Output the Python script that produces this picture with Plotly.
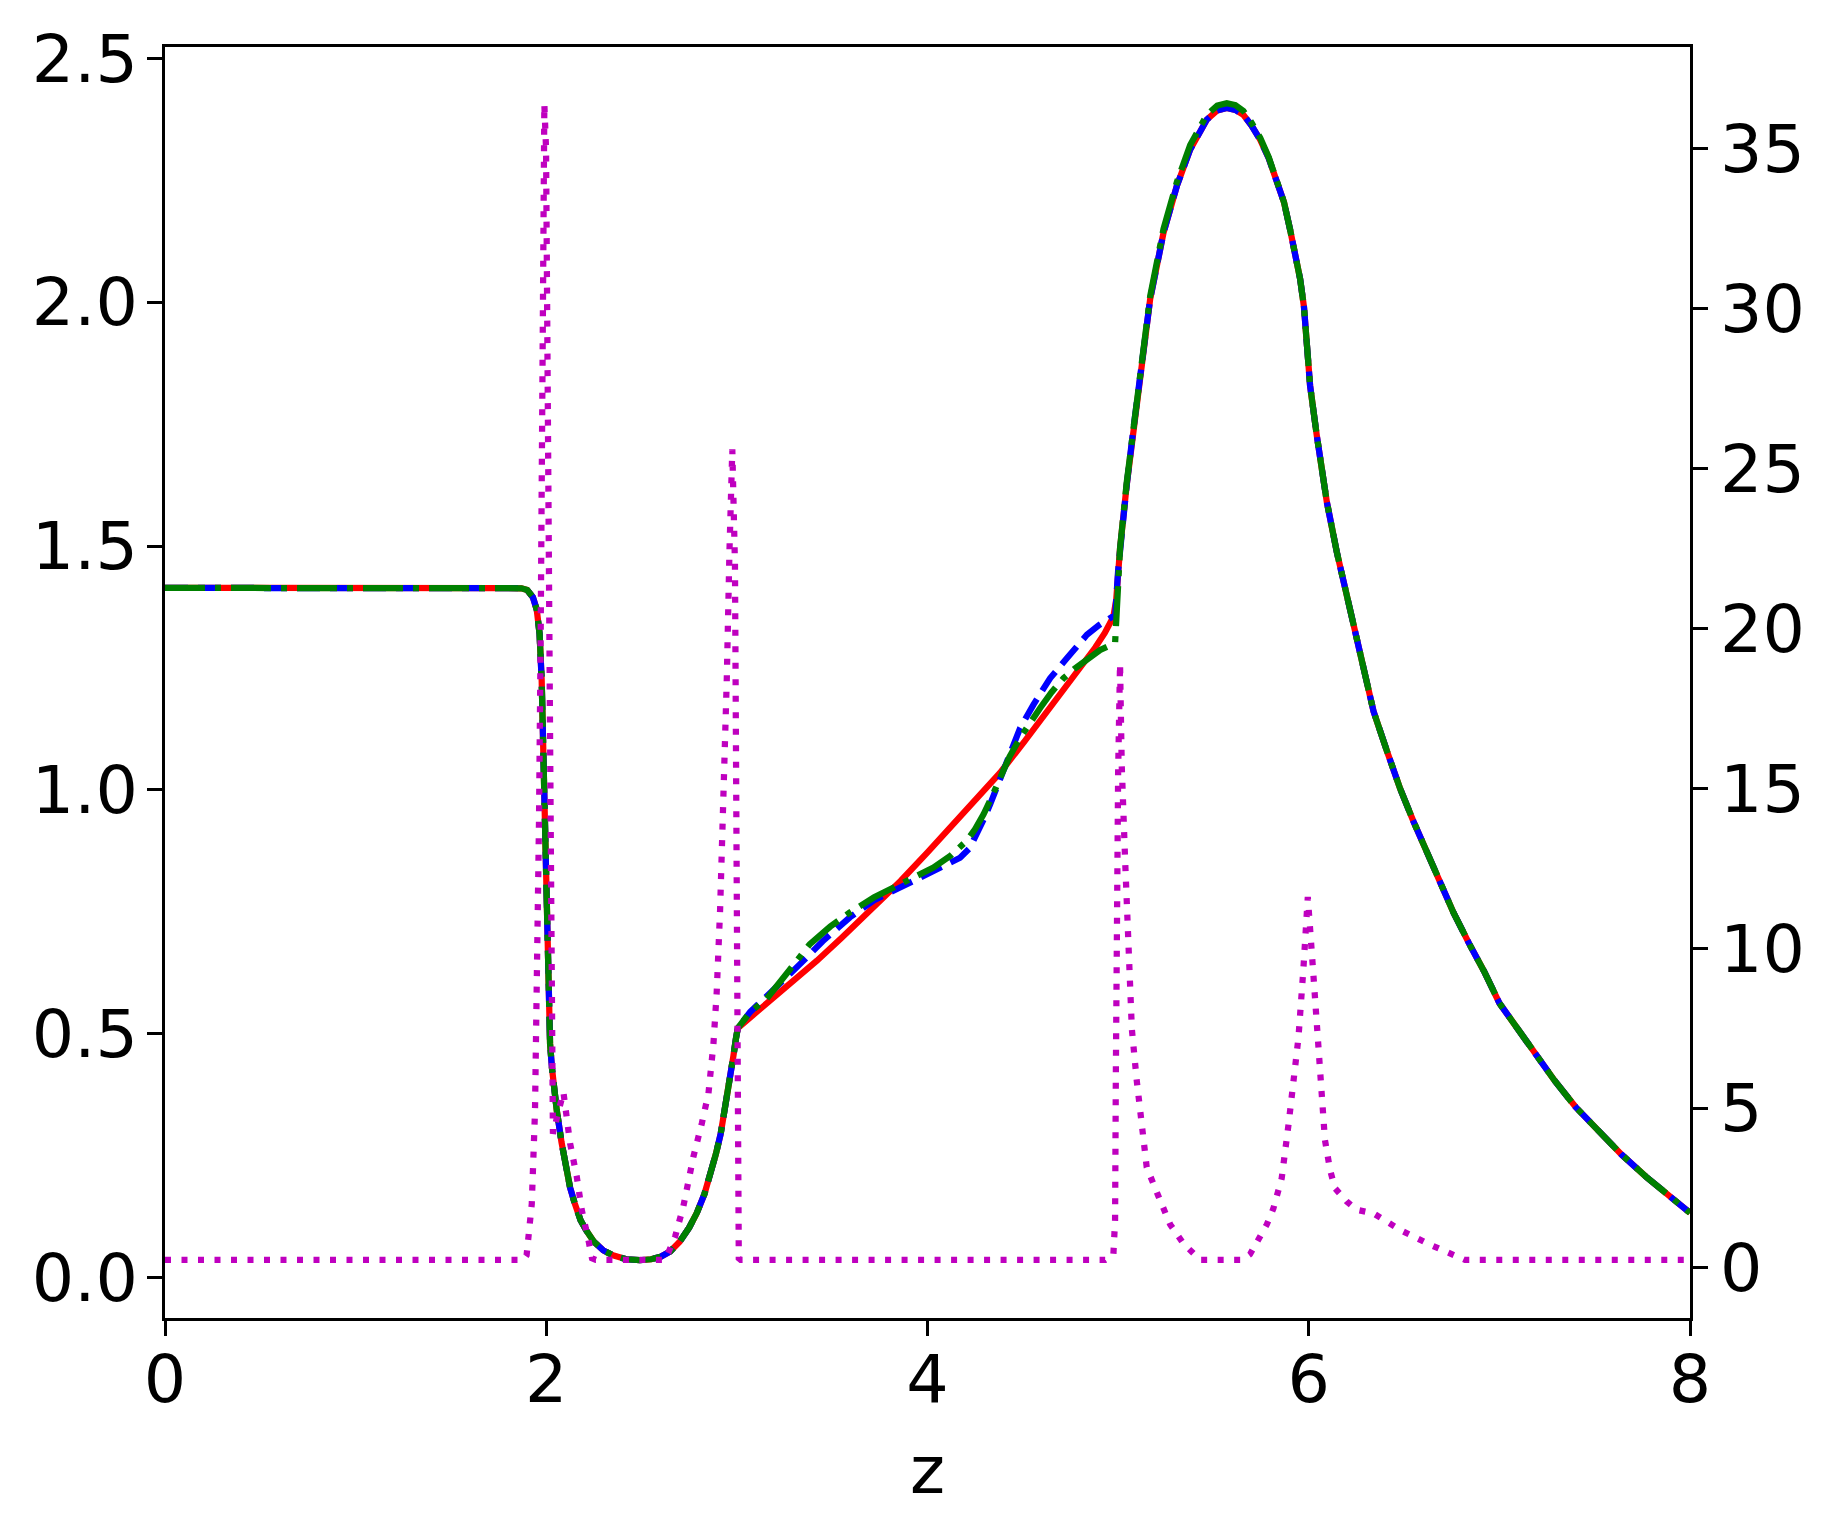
import plotly.graph_objects as go

# ---------------- data ----------------
# shared part of the three left-axis curves (z <= 3)
z_common = [0.0, 1.80, 1.87, 1.90, 1.93, 1.95, 1.965, 1.976, 1.985, 1.994, 2.003, 2.011,
            2.02, 2.03, 2.04, 2.055, 2.08, 2.10, 2.125, 2.15, 2.18, 2.21, 2.25, 2.30, 2.35,
            2.42, 2.49, 2.55, 2.60, 2.65, 2.70, 2.75, 2.79, 2.83, 2.86, 2.89, 2.915, 2.935,
            2.95, 2.965, 2.982, 2.995, 3.005]
v_common = [1.4142, 1.4142, 1.4135, 1.410, 1.395, 1.37, 1.32, 1.225, 1.069, 0.861, 0.66, 0.56,
            0.48, 0.43, 0.39, 0.344, 0.278, 0.235, 0.185, 0.152, 0.118, 0.097, 0.074, 0.056, 0.046,
            0.038, 0.036, 0.038, 0.043, 0.054, 0.074, 0.103, 0.133, 0.172, 0.208, 0.254, 0.295, 0.338,
            0.372, 0.41, 0.455, 0.49, 0.512]

# red (solid) between 3 and 5
z_red_mid = [3.08, 3.16, 3.30, 3.42, 3.55, 3.68, 3.86, 4.00, 4.12, 4.25, 4.38, 4.51, 4.64,
             4.74, 4.82, 4.88, 4.93, 4.96, 4.975, 4.99, 5.0]
v_red_mid = [0.537, 0.563, 0.610, 0.650, 0.697, 0.746, 0.814, 0.872, 0.923, 0.978, 1.035, 1.100, 1.166,
             1.218, 1.259, 1.292, 1.322, 1.343, 1.355, 1.39, 1.45]

# blue (dashed) between 3 and 5
z_blue_mid = [3.07, 3.156, 3.25, 3.331, 3.45, 3.593, 3.72, 3.856, 3.95, 4.031, 4.11, 4.171, 4.22,
              4.258, 4.295, 4.329, 4.365, 4.399, 4.44, 4.486, 4.556, 4.643, 4.731, 4.836, 4.90,
              4.942, 4.985, 5.0]
v_blue_mid = [0.545, 0.575, 0.612, 0.643, 0.690, 0.739, 0.774, 0.800, 0.818, 0.834, 0.848, 0.861, 0.880,
              0.909, 0.940, 0.971, 1.008, 1.045, 1.088, 1.127, 1.175, 1.229, 1.270, 1.318, 1.338,
              1.349, 1.359, 1.45]

# green (dash-dot) between 3 and 5
z_green_mid = [3.07, 3.156, 3.27, 3.383, 3.49, 3.593, 3.72, 3.856, 3.95, 4.031, 4.12, 4.206, 4.25,
               4.294, 4.34, 4.381, 4.43, 4.486, 4.54, 4.591, 4.65, 4.713, 4.77, 4.818, 4.86, 4.906,
               4.95, 4.984, 5.0]
v_green_mid = [0.545, 0.572, 0.628, 0.684, 0.720, 0.749, 0.780, 0.807, 0.825, 0.841, 0.865, 0.896, 0.920,
               0.950, 0.988, 1.025, 1.068, 1.107, 1.140, 1.168, 1.200, 1.229, 1.248, 1.263, 1.276, 1.287,
               1.295, 1.301, 1.42]

# shared tail after z = 5 (peak and decay)
z_tail = [5.01, 5.045, 5.08, 5.124, 5.168, 5.238, 5.308, 5.378, 5.465, 5.52, 5.57, 5.615, 5.657,
          5.70, 5.745, 5.79, 5.832, 5.87, 5.902, 5.93, 5.955, 5.975, 5.99, 6.007, 6.042, 6.095,
          6.147, 6.20, 6.25, 6.34, 6.41, 6.48, 6.55, 6.62, 6.69, 6.76, 6.84, 6.92, 7.00, 7.09,
          7.19, 7.29, 7.40, 7.52, 7.64, 7.77, 7.88, 8.00]
v_tail = [1.495, 1.625, 1.740, 1.883, 2.006, 2.142, 2.238, 2.313, 2.374, 2.393, 2.398, 2.394, 2.384,
          2.362, 2.333, 2.295, 2.251, 2.205, 2.149, 2.10, 2.047, 1.99, 1.924, 1.829, 1.727, 1.590,
          1.488, 1.40, 1.32, 1.161, 1.08, 1.002, 0.935, 0.872, 0.808, 0.748, 0.686, 0.628, 0.563, 0.514,
          0.458, 0.404, 0.350, 0.300, 0.253, 0.207, 0.170, 0.133]
# green peak is slightly higher
v_tail_green = [1.495, 1.63, 1.745, 1.89, 2.012, 2.15, 2.246, 2.322, 2.384, 2.403, 2.408, 2.404, 2.392,
                2.368, 2.337, 2.297, 2.252, 2.205, 2.149, 2.10, 2.047, 1.99, 1.924, 1.829, 1.727, 1.590,
                1.488, 1.40, 1.32, 1.161, 1.08, 1.002, 0.935, 0.872, 0.808, 0.748, 0.686, 0.628, 0.563, 0.514,
                0.458, 0.404, 0.350, 0.300, 0.253, 0.207, 0.170, 0.133]

# magenta dotted curve on the right axis
z_mag = [0.0, 1.88, 1.897, 1.924, 1.941, 1.952, 1.962, 1.971, 1.979, 1.986, 1.99, 1.999, 2.008,
         2.016, 2.022, 2.028, 2.035, 2.09, 2.125, 2.16, 2.186, 2.221, 2.24, 2.26, 2.62, 2.64,
         2.676, 2.719, 2.772, 2.816, 2.851, 2.877, 2.894, 2.912, 2.929, 2.947, 2.961, 2.976, 2.99,
         3.0, 3.006, 3.01, 3.02, 4.932, 4.975, 4.984, 4.988, 4.993, 5.0, 5.01, 5.019, 5.037, 5.054,
         5.072, 5.098, 5.124, 5.15, 5.211, 5.273, 5.343, 5.413, 5.43, 5.65, 5.692, 5.736, 5.78,
         5.814, 5.858, 5.894, 5.92, 5.946, 5.972, 5.995, 6.024, 6.042, 6.059, 6.085, 6.112, 6.138,
         6.199, 6.251, 6.339, 6.479, 6.636, 6.794, 6.82, 8.0]
v_mag = [0.25, 0.25, 0.4, 2.0, 4.9, 8.5, 14.0, 20.0, 28.0, 35.8, 36.4, 35.0, 29.0,
         22.0, 15.0, 10.0, 4.2, 5.5, 3.9, 2.86, 1.82, 0.88, 0.3, 0.25, 0.25, 0.47,
         0.98, 1.92, 3.48, 4.52, 5.46, 7.0, 8.6, 11.2, 14.4, 18.4, 22.4, 25.6, 22.0,
         12.0, 2.0, 0.3, 0.25, 0.25, 0.4, 1.5, 6.0, 11.0, 15.5, 18.9, 15.7, 12.7, 9.7,
         7.47, 5.84, 4.34, 3.15, 2.25, 1.36, 0.76, 0.32, 0.25, 0.25, 0.43, 0.89, 1.36,
         1.85, 2.80, 4.49, 5.98, 7.2, 9.36, 11.6, 9.2, 7.64, 5.97, 4.0, 3.06, 2.49,
         2.08, 1.82, 1.71, 1.19, 0.73, 0.31, 0.25, 0.25]

x_ticks = [0, 2, 4, 6, 8]
y_left_ticks = [0.0, 0.5, 1.0, 1.5, 2.0, 2.5]
y_right_ticks = [0, 5, 10, 15, 20, 25, 30, 35]

# ---------------- figure ----------------
LW = 6.25
FONT = dict(family="DejaVu Sans", size=66.7, color="black")

fig = go.Figure()
fig.add_trace(go.Scatter(x=z_common + z_red_mid + z_tail, y=v_common + v_red_mid + v_tail,
                         mode="lines", line=dict(color="#ff0000", width=LW), showlegend=False))
fig.add_trace(go.Scatter(x=z_common + z_blue_mid + z_tail, y=v_common + v_blue_mid + v_tail,
                         mode="lines", line=dict(color="#0000ff", width=LW, dash="23px,10px"),
                         showlegend=False))
fig.add_trace(go.Scatter(x=z_common + z_green_mid + z_tail, y=v_common + v_green_mid + v_tail_green,
                         mode="lines",
                         line=dict(color="#008000", width=LW, dash="40px,10px,6px,10px"),
                         showlegend=False))
fig.add_trace(go.Scatter(x=z_mag, y=v_mag, yaxis="y2", mode="lines",
                         line=dict(color="#bf00bf", width=LW, dash="6px,10.5px"),
                         showlegend=False))

axis_common = dict(showgrid=False, zeroline=False, showline=True, linecolor="black",
                   linewidth=3.3, ticks="outside", ticklen=14.6, tickwidth=3.3,
                   tickcolor="black", tickfont=FONT)

W, H = 1818, 1518          # page body has an 8 px margin
PL, PR, PT, PB = 157, 1682, 35, 1310   # plot area inside the figure

fig.update_layout(
    width=W, height=H,
    margin=dict(l=PL, r=W - PR, t=PT, b=H - PB, pad=0),
    paper_bgcolor="white", plot_bgcolor="white",
    font=FONT,
    xaxis=dict(range=[0, 8], tickvals=x_ticks, mirror=True, ticklabelstandoff=-14, **axis_common),
    yaxis=dict(range=[-0.0824, 2.523], tickvals=y_left_ticks, tickformat=".1f",
               ticklabelstandoff=-4, **axis_common),
    yaxis2=dict(range=[-1.565, 38.18], tickvals=y_right_ticks, overlaying="y", side="right",
                ticklabelstandoff=-1, **axis_common),
    annotations=[dict(text="z", xref="paper", yref="paper", x=0.5, y=(PB - 1462) / (PB - PT),
                      xanchor="center", yanchor="middle", showarrow=False, font=FONT)],
)

fig.write_html("out.html")
